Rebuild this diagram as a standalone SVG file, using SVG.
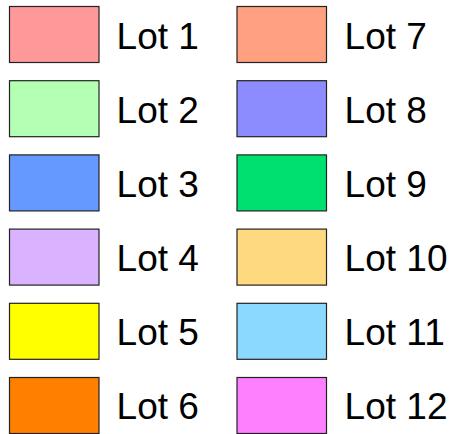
<svg xmlns="http://www.w3.org/2000/svg" width="456" height="434" viewBox="0 0 456 434">
<style>
.sw{stroke:#222;stroke-width:1.2}
.lb{font-family:"Liberation Sans",Arial,sans-serif;font-size:37px;fill:#000}
</style>
<rect width="456" height="434" fill="#fff"/>
<g id="lot1"><rect class="sw" x="9.5" y="6.5" width="89.5" height="56" fill="#ff9999"/><text class="lb" x="116.6" y="48.8">Lot 1</text></g>
<g id="lot2"><rect class="sw" x="9.5" y="80.7" width="89.5" height="56" fill="#b3ffb3"/><text class="lb" x="116.6" y="122.9">Lot 2</text></g>
<g id="lot3"><rect class="sw" x="9.5" y="154.9" width="89.5" height="56" fill="#6699ff"/><text class="lb" x="116.6" y="197">Lot 3</text></g>
<g id="lot4"><rect class="sw" x="9.5" y="229.1" width="89.5" height="56" fill="#d9b3ff"/><text class="lb" x="116.6" y="271.1">Lot 4</text></g>
<g id="lot5"><rect class="sw" x="9.5" y="303.3" width="89.5" height="56" fill="#ffff00"/><text class="lb" x="116.6" y="345.2">Lot 5</text></g>
<g id="lot6"><rect class="sw" x="9.5" y="377.5" width="89.5" height="56" fill="#ff8000"/><text class="lb" x="116.6" y="419.3">Lot 6</text></g>
<g id="lot7"><rect class="sw" x="237" y="6.5" width="89.5" height="56" fill="#ffa080"/><text class="lb" x="344.6" y="48.8">Lot 7</text></g>
<g id="lot8"><rect class="sw" x="237" y="80.7" width="89.5" height="56" fill="#8c8cff"/><text class="lb" x="344.6" y="122.9">Lot 8</text></g>
<g id="lot9"><rect class="sw" x="237" y="154.9" width="89.5" height="56" fill="#00e070"/><text class="lb" x="344.6" y="197">Lot 9</text></g>
<g id="lot10"><rect class="sw" x="237" y="229.1" width="89.5" height="56" fill="#ffd980"/><text class="lb" x="344.6" y="271.1">Lot 10</text></g>
<g id="lot11"><rect class="sw" x="237" y="303.3" width="89.5" height="56" fill="#8cd9ff"/><text class="lb" x="344.6" y="345.2">Lot 11</text></g>
<g id="lot12"><rect class="sw" x="237" y="377.5" width="89.5" height="56" fill="#ff80ff"/><text class="lb" x="344.6" y="419.3">Lot 12</text></g>
<g id="connectors"/>
</svg>
